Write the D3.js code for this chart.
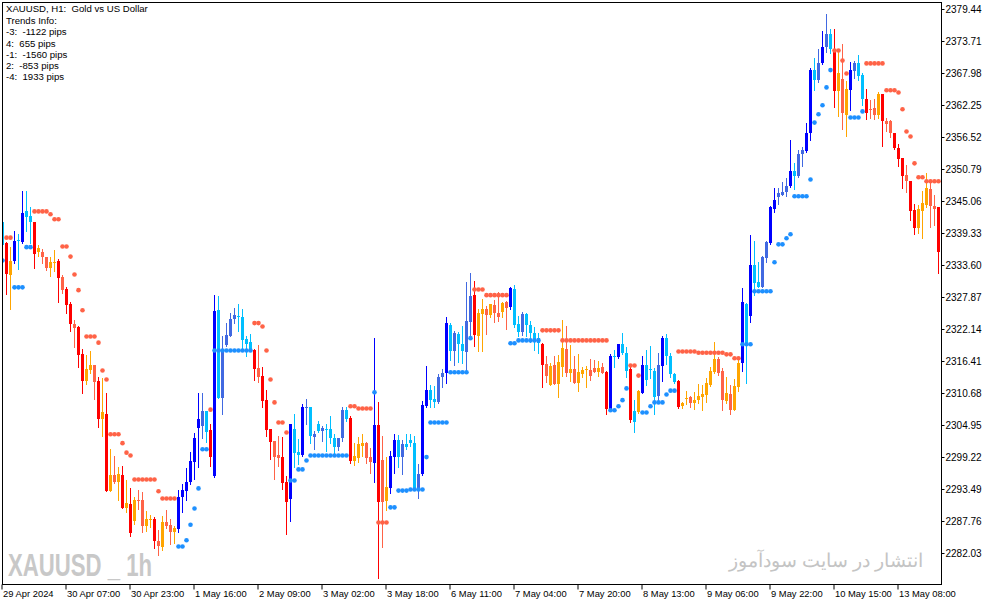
<!DOCTYPE html>
<html><head><meta charset="utf-8">
<script src="https://cdn.jsdelivr.net/npm/d3@7"></script>
<style>
html,body{margin:0;padding:0;background:#fff;}
svg{display:block;}
text{font-family:"Liberation Sans",Arial,sans-serif;}
</style></head><body>
<svg id="chart" width="994" height="605"></svg>
<script>
// ---------------- DATA ----------------
const chartTitle = "XAUUSD, H1:  Gold vs US Dollar";
const infoLines = ["Trends Info:", "-3:  -1122 pips", "4:  655 pips", "-1:  -1560 pips", "2:  -853 pips", "-4:  1933 pips"];
const watermarkLeft = "XAUUSD _ 1h";
const watermarkRight = "انتشار در سایت سودآموز";

const firstBarUTC = [2024, 3, 29, 14]; // 29 Apr 2024 14:00, H1 bars (no 00:00 bar, no weekend)
const tickTimes = ["2024-04-29 14:00","2024-04-30 07:00","2024-04-30 23:00","2024-05-01 16:00","2024-05-02 09:00",
  "2024-05-03 02:00","2024-05-03 18:00","2024-05-06 11:00","2024-05-07 04:00","2024-05-07 20:00",
  "2024-05-08 13:00","2024-05-09 06:00","2024-05-09 22:00","2024-05-10 15:00","2024-05-13 08:00"];
const tickLabels = ["29 Apr 2024","30 Apr 07:00","30 Apr 23:00","1 May 16:00","2 May 09:00",
  "3 May 02:00","3 May 18:00","6 May 11:00","7 May 04:00","7 May 20:00",
  "8 May 13:00","9 May 06:00","9 May 22:00","10 May 15:00","13 May 08:00"];
const priceTicks = [2379.44,2373.71,2367.98,2362.25,2356.52,2350.79,2345.06,2339.33,2333.60,2327.87,
  2322.14,2316.41,2310.68,2304.95,2299.22,2293.49,2287.76,2282.03];

const open = [
2341.3,2337.5,2331.8,2334.3,2338.1,2337.8,2343.3,2342.4,2341.3,2336.0,
2336.0,2335.0,2333.1,2334.0,2334.3,2331.4,2329.3,2326.6,2323.0,2322.5,
2317.7,2312.8,2314.8,2315.7,2312.8,2306.0,2306.9,2293.2,2296.0,2294.7,
2296.0,2290.1,2290.8,2287.7,2291.5,2291.5,2286.9,2288.0,2288.1,2284.2,
2283.1,2287.6,2287.0,2285.8,2286.4,2292.1,2293.2,2294.7,2298.4,2304.5,
2304.8,2307.4,2304.0,2295.8,2325.5,2309.8,2319.3,2320.9,2324.0,2324.4,
2324.3,2320.3,2319.8,2318.4,2315.2,2313.7,2309.4,2304.2,2302.1,2299.6,
2299.2,2294.8,2291.7,2304.2,2300.2,2299.6,2308.0,2308.2,2302.8,2305.1,
2303.9,2304.3,2304.2,2302.7,2301.0,2302.7,2307.6,2306.2,2298.5,2299.1,
2301.2,2301.8,2299.2,2298.2,2304.9,2298.7,2291.4,2293.7,2299.3,2302.2,
2299.3,2301.5,2302.2,2301.8,2293.7,2296.1,2308.3,2311.2,2309.6,2309.1,
2313.6,2314.2,2322.8,2318.2,2321.2,2319.4,2318.1,2323.4,2328.2,2320.9,
2324.8,2325.7,2324.6,2326.4,2325.0,2325.2,2327.0,2326.1,2329.3,2323.0,
2321.6,2324.9,2322.8,2321.5,2320.6,2319.4,2315.9,2312.1,2315.7,2312.3,
2315.4,2318.5,2314.3,2315.0,2312.5,2314.1,2314.8,2314.8,2315.2,2314.5,
2315.4,2314.5,2307.7,2317.3,2317.1,2319.4,2317.8,2314.9,2307.4,2307.3,
2310.7,2315.7,2315.0,2314.6,2310.1,2315.5,2320.6,2317.3,2314.0,2312.8,
2308.3,2309.6,2309.9,2308.8,2309.4,2310.0,2310.3,2312.1,2314.5,2316.8,
2314.6,2309.3,2310.5,2307.7,2311.8,2316.1,2326.7,2324.5,2333.6,2330.5,
2329.6,2334.9,2337.6,2343.6,2345.8,2346.2,2346.7,2347.7,2350.4,2349.5,
2353.5,2354.0,2357.2,2368.5,2366.7,2369.7,2372.6,2375.0,2372.2,2364.7,
2366.9,2360.5,2364.9,2368.4,2369.8,2367.6,2363.4,2361.5,2361.7,2360.5,
2364.2,2359.4,2359.3,2357.2,2354.5,2352.8,2349.7,2348.6,2343.4,2340.3,
2343.3,2344.3,2347.2,2344.2,2344.0];
const high = [
2341.5,2337.8,2336.9,2339.7,2339.1,2346.8,2346.8,2343.9,2341.3,2337.2,
2336.5,2335.0,2335.0,2336.3,2334.7,2331.8,2329.7,2326.9,2323.7,2322.7,
2318.5,2317.5,2318.2,2315.7,2313.6,2313.4,2310.7,2300.6,2299.4,2297.5,
2297.6,2295.1,2293.6,2292.1,2293.3,2292.9,2289.5,2288.8,2288.5,2286.1,
2288.7,2289.8,2288.1,2286.9,2293.3,2294.4,2297.3,2300.2,2303.6,2310.6,
2310.6,2307.4,2305.1,2328.3,2328.0,2320.8,2323.2,2325.0,2325.9,2326.6,
2325.7,2320.9,2321.2,2318.5,2319.3,2315.3,2311.2,2304.2,2302.1,2303.0,
2302.8,2295.9,2305.2,2307.0,2302.4,2308.7,2309.6,2308.2,2303.9,2305.7,
2304.8,2305.1,2306.6,2303.4,2302.7,2308.2,2308.2,2306.6,2301.8,2302.8,
2303.3,2301.9,2300.8,2320.6,2309.0,2303.0,2299.2,2300.3,2303.3,2303.1,
2302.2,2303.4,2303.4,2303.0,2298.0,2309.2,2315.5,2312.1,2311.9,2314.0,
2315.0,2324.3,2323.3,2321.8,2321.6,2322.7,2330.5,2332.1,2330.7,2325.7,
2327.6,2326.2,2326.7,2327.4,2328.8,2327.0,2327.1,2329.7,2330.0,2324.5,
2325.1,2325.0,2323.6,2322.5,2321.4,2319.6,2317.3,2316.1,2317.3,2317.5,
2323.7,2322.7,2319.3,2317.3,2317.6,2315.4,2315.5,2316.7,2316.6,2316.4,
2316.1,2314.6,2317.6,2318.4,2319.5,2321.5,2319.0,2315.3,2309.4,2311.3,
2317.3,2318.4,2319.1,2315.1,2317.8,2320.9,2321.2,2317.8,2314.2,2313.0,
2309.1,2311.0,2310.1,2310.9,2312.3,2312.1,2313.3,2315.4,2319.8,2317.2,
2315.1,2313.6,2312.1,2313.1,2317.1,2329.5,2326.8,2339.0,2337.9,2334.2,
2335.2,2337.9,2344.2,2347.4,2347.3,2348.5,2349.2,2356.0,2351.8,2354.2,
2354.8,2359.0,2368.9,2370.6,2372.2,2375.5,2378.5,2375.9,2375.9,2372.2,
2373.2,2366.6,2370.0,2370.1,2371.2,2367.9,2365.1,2363.1,2363.4,2364.6,
2364.3,2360.0,2359.6,2357.2,2355.2,2352.8,2351.5,2348.6,2344.6,2344.3,
2346.8,2350.0,2348.8,2346.1,2344.0];
const low = [
2337.0,2328.4,2325.7,2334.0,2332.9,2337.6,2339.7,2337.6,2333.1,2335.2,
2334.0,2332.7,2331.6,2332.6,2327.0,2328.6,2325.0,2321.8,2319.0,2315.4,
2310.7,2312.3,2314.3,2309.6,2304.6,2303.0,2293.2,2293.2,2294.5,2291.5,
2290.1,2289.4,2285.1,2287.3,2289.9,2285.8,2285.9,2286.7,2283.0,2281.7,
2282.5,2286.5,2283.6,2283.9,2285.8,2289.3,2291.6,2294.3,2295.3,2297.5,
2302.7,2301.9,2297.6,2295.7,2309.8,2307.0,2319.1,2320.8,2323.2,2321.8,
2318.8,2317.3,2318.2,2313.0,2312.7,2308.2,2303.0,2298.8,2295.3,2297.6,
2293.5,2285.4,2287.8,2297.5,2298.0,2299.4,2305.1,2301.8,2300.6,2303.7,
2302.1,2300.3,2301.8,2299.9,2300.5,2302.1,2305.7,2298.1,2297.8,2298.3,
2299.4,2298.1,2296.4,2294.8,2277.5,2283.1,2289.8,2292.8,2296.4,2297.5,
2296.1,2300.6,2301.2,2293.3,2291.9,2296.0,2308.2,2308.2,2308.2,2308.8,
2311.8,2312.5,2316.6,2315.7,2316.2,2316.1,2314.3,2321.1,2319.1,2318.2,
2318.2,2321.2,2324.3,2323.4,2323.6,2324.3,2322.1,2325.7,2322.5,2320.9,
2321.1,2320.9,2319.8,2318.4,2317.8,2311.8,2312.7,2312.1,2312.3,2310.0,
2313.7,2313.7,2312.9,2312.5,2311.1,2313.5,2311.8,2313.0,2314.5,2313.7,
2314.2,2307.0,2307.6,2315.3,2316.9,2317.6,2313.6,2305.5,2303.7,2307.1,
2310.6,2312.1,2313.3,2306.9,2309.3,2312.9,2315.9,2313.6,2312.4,2308.0,
2308.0,2308.7,2308.1,2307.9,2308.9,2307.7,2309.0,2311.9,2314.3,2313.9,
2307.6,2308.9,2306.9,2307.6,2311.1,2314.7,2312.4,2323.4,2328.2,2329.6,
2329.6,2334.1,2337.3,2343.1,2344.5,2346.1,2346.0,2347.6,2347.2,2349.4,
2351.4,2353.8,2356.0,2364.9,2366.4,2369.6,2371.8,2371.5,2361.9,2360.3,
2357.9,2356.7,2361.3,2367.0,2366.8,2362.2,2359.7,2359.9,2359.7,2359.9,
2354.9,2357.6,2356.5,2354.4,2351.4,2347.4,2346.7,2341.6,2339.1,2339.4,
2338.5,2343.9,2340.4,2340.7,2332.2];
const close = [
2337.2,2332.0,2334.3,2337.9,2337.9,2343.0,2342.2,2341.3,2335.6,2336.7,
2335.0,2333.1,2334.1,2334.1,2331.3,2329.1,2326.4,2323.0,2322.4,2317.5,
2312.8,2315.0,2315.7,2312.7,2306.0,2307.3,2293.2,2296.0,2294.7,2296.2,
2290.1,2291.0,2285.6,2291.5,2291.4,2286.9,2288.1,2288.1,2284.2,2283.3,
2287.5,2286.9,2285.8,2286.5,2292.1,2293.3,2294.7,2298.5,2302.6,2306.1,
2307.4,2303.7,2299.3,2325.4,2309.8,2318.4,2321.1,2323.9,2324.6,2324.3,
2320.2,2319.4,2318.4,2315.0,2313.5,2309.2,2304.0,2301.9,2299.3,2299.1,
2294.6,2291.2,2305.1,2300.0,2299.6,2308.2,2308.2,2303.0,2303.3,2303.9,
2304.5,2304.2,2302.7,2301.0,2302.7,2307.6,2306.0,2298.5,2299.4,2301.5,
2301.8,2299.1,2298.3,2304.9,2291.2,2291.2,2293.8,2299.4,2302.2,2299.3,
2301.5,2301.0,2301.8,2293.6,2296.2,2308.5,2311.2,2309.4,2309.1,2313.6,
2314.2,2323.3,2318.2,2321.5,2319.4,2318.2,2323.6,2328.0,2321.1,2325.0,
2325.7,2324.6,2326.6,2325.0,2324.3,2326.8,2325.9,2329.4,2322.8,2321.6,
2324.9,2322.8,2321.5,2319.8,2319.7,2315.7,2313.7,2315.5,2312.3,2316.3,
2318.7,2314.3,2314.9,2312.5,2314.5,2314.8,2315.0,2313.7,2314.5,2315.2,
2314.2,2307.8,2317.3,2317.1,2319.4,2317.8,2314.7,2305.8,2305.4,2311.0,
2315.7,2313.0,2314.9,2310.0,2315.7,2320.5,2317.3,2314.0,2312.7,2308.2,
2308.9,2309.7,2308.8,2309.5,2310.1,2310.5,2312.5,2314.6,2316.8,2314.2,
2309.4,2310.6,2307.7,2311.9,2316.1,2326.9,2319.6,2333.6,2330.4,2329.6,
2335.1,2337.8,2344.0,2345.2,2346.5,2346.7,2347.7,2350.4,2349.5,2353.5,
2354.2,2357.2,2368.6,2366.7,2369.7,2372.6,2375.0,2372.2,2364.8,2368.0,
2360.9,2365.1,2368.5,2369.8,2367.4,2363.3,2360.8,2361.4,2360.5,2364.2,
2359.3,2358.8,2357.2,2354.5,2352.6,2349.6,2348.6,2343.3,2340.3,2343.6,
2344.7,2347.3,2344.2,2343.6,2336.0];

// candle colour state: B=strong bull, R=bull, C=bear in uptrend, D=strong bear, T=bear, O=bull in downtrend
const candleState = ("CDOBCBCCDO"+"TTOODTDDTD"+"DOOTDODOTO"+"DODOTTOODT"+"OTTOBBBBBB"+
  "RCDBCRRRRC"+"CCCDTDDDTT"+"DDBCCBRCRC"+"RCCCRRCDOO"+"OTTBDTOBBC"+
  "RCCCRBBCCR"+"RBCRCCRRDO"+"OTOTTOTBCC"+"RCCCCDTOTO"+"OTOTOOOTTO"+
  "TDBCBCCDCO"+"BCCCRBCCCD"+"OOTOOOOOOT"+"TOTOOBCBCC"+"RRBBRRRBCR"+
  "RBBCRBRCDO"+"TOBRCCDTTO"+"DTTDDDTDDO"+"OOTTD").split("");

// trailing stop dots: U = support (below), D = resistance (above)
const trailStop = [
2334.4,2338.5,2338.5,2329.6,2329.6,2329.6,2336.8,2336.8,2343.2,2343.2,
2343.2,2343.2,2342.7,2341.8,2341.8,2336.9,2336.9,2335.1,2331.9,2329.1,
2325.5,2320.8,2320.8,2320.8,2319.7,2314.7,2313.1,2303.3,2303.3,2303.3,
2301.7,2300.0,2299.5,2295.2,2295.2,2295.2,2295.2,2295.2,2295.2,2293.1,
2291.8,2291.8,2291.8,2291.8,2283.2,2283.2,2284.3,2287.1,2290.0,2293.6,
2300.6,2300.6,2307.7,2318.3,2318.3,2318.3,2318.3,2318.3,2318.3,2318.3,
2318.3,2318.3,2318.3,2323.2,2323.2,2322.6,2318.3,2313.1,2309.0,2305.4,
2305.4,2303.6,2295.0,2295.0,2297.0,2297.0,2298.6,2299.5,2299.5,2299.5,
2299.5,2299.5,2299.5,2299.5,2299.5,2299.5,2299.5,2308.3,2308.3,2307.9,
2307.9,2307.9,2307.9,2310.8,2287.5,2287.5,2287.5,2290.2,2290.2,2293.2,
2293.2,2293.2,2293.4,2293.4,2293.4,2293.4,2299.2,2305.4,2305.4,2305.4,
2305.4,2305.4,2314.4,2314.4,2314.4,2314.4,2314.4,2320.5,2329.2,2329.2,
2329.2,2328.2,2328.2,2328.2,2328.2,2328.2,2328.2,2319.6,2319.6,2320.1,
2320.1,2320.1,2320.1,2320.1,2320.1,2321.9,2321.9,2321.9,2321.9,2321.9,
2320.1,2320.1,2320.1,2320.1,2320.1,2320.1,2320.1,2320.1,2320.1,2320.1,
2320.1,2320.1,2307.6,2307.6,2308.3,2309.4,2311.5,2315.6,2315.6,2313.8,
2307.2,2307.2,2308.3,2309.0,2309.0,2309.0,2310.4,2311.1,2311.1,2318.1,
2318.1,2318.1,2318.1,2318.1,2317.9,2317.9,2317.9,2317.9,2317.9,2317.9,
2317.9,2317.6,2317.6,2316.9,2316.9,2319.4,2319.4,2319.4,2328.9,2328.9,
2328.9,2328.9,2328.9,2334.1,2337.3,2337.3,2338.4,2339.1,2345.9,2345.9,
2345.9,2345.9,2348.9,2359.1,2360.6,2362.2,2365.4,2368.5,2372.0,2372.0,
2370.2,2367.9,2360.0,2360.0,2360.0,2361.1,2369.7,2369.7,2369.7,2369.7,
2369.7,2364.9,2364.9,2364.9,2364.5,2361.5,2357.5,2356.6,2351.8,2349.3,
2349.3,2348.6,2348.6,2348.6,2348.6];
const trailSide = ("UDDUUUUUDD"+"DDDDDDDDDD"+"DDDDDDDDDD"+"DDDDDDDDDD"+"DDDDUUUUUU"+
  "UUDUUUUUUU"+"UUUDDDDDDD"+"DDUUUUUUUU"+"UUUUUUUDDD"+"DDDUDDDUUU"+
  "UUUUUUUUUU"+"UUUUUUUUDD"+"DDDDDDDUUU"+"UUUUUDDDDD"+"DDDDDDDDDD"+
  "DDUUUUUDDD"+"UUUUUUUUUD"+"DDDDDDDDDD"+"DDDDDUUUUU"+"UUUUUUUUUU"+
  "UUUUUUUUDD"+"DDUUUUDDDD"+"DDDDDDDDDD"+"DDDDD").split("");

const stateColors = {B:"#0000ff", R:"#4169e1", C:"#00bfff", D:"#ff0000", T:"#ff6347", O:"#ffa500"};
const dotColors = {U:"#1e90ff", D:"#ff6347"};

// ---------------- BUILD ----------------
const fmtKey = d3.utcFormat("%Y-%m-%d %H:%M");
const barTimes = [];
let t = Date.UTC(...firstBarUTC);
while (barTimes.length < open.length) {
  const d = new Date(t);
  const dow = d.getUTCDay(), h = d.getUTCHours();
  if (h !== 0 && dow !== 0 && dow !== 6) barTimes.push(fmtKey(d));
  t += 3600000;
}
const bars = barTimes.map((k, i) => ({key: k, o: open[i], h: high[i], l: low[i], c: close[i],
  s: candleState[i], stop: trailStop[i], side: trailSide[i]}));

const svg = d3.select("#chart");
const x = d3.scaleBand().domain(barTimes).range([0, 940]).paddingInner(0).paddingOuter(0);
const y = d3.scaleLinear().domain([d3.min(priceTicks), d3.max(priceTicks)]).range([553, 9]);
const bw = x.bandwidth();
const cx = k => Math.round(x(k) + bw / 2);

svg.append("rect").attr("width", 994).attr("height", 605).attr("fill", "#fff");

const defs = svg.append("defs");
defs.append("clipPath").attr("id", "plotClip").append("rect")
  .attr("x", 3).attr("y", 3).attr("width", 938).attr("height", 581);

const plot = svg.append("g").attr("clip-path", "url(#plotClip)").attr("shape-rendering", "crispEdges");

// wicks
plot.append("g").selectAll("rect").data(bars).join("rect")
  .attr("x", d => cx(d.key))
  .attr("y", d => Math.round(y(d.h)))
  .attr("width", 1)
  .attr("height", d => Math.max(1, Math.round(y(d.l)) - Math.round(y(d.h)) + 1))
  .attr("fill", d => stateColors[d.s]);

// bodies
plot.append("g").selectAll("rect").data(bars).join("rect")
  .attr("x", d => cx(d.key) - 1)
  .attr("y", d => Math.round(y(Math.max(d.o, d.c))))
  .attr("width", 3)
  .attr("height", d => Math.max(1, Math.round(y(Math.min(d.o, d.c))) - Math.round(y(Math.max(d.o, d.c)))))
  .attr("fill", d => stateColors[d.s]);

// trailing dots
svg.append("g").attr("clip-path", "url(#plotClip)").selectAll("circle").data(bars).join("circle")
  .attr("cx", d => cx(d.key) + 0.5)
  .attr("cy", d => y(d.stop))
  .attr("r", 2.3)
  .attr("fill", d => dotColors[d.side]);

// watermarks
svg.append("text").attr("x", 8).attr("y", 576)
  .attr("textLength", 144).attr("lengthAdjust", "spacingAndGlyphs")
  .attr("font-size", 31).attr("font-weight", "bold").attr("fill", "#c8c8c8")
  .style("white-space", "pre")
  .text(watermarkLeft);
svg.append("text").attr("x", 826).attr("y", 567)
  .attr("text-anchor", "middle")
  .attr("font-family", "DejaVu Sans, Noto Sans, sans-serif")
  .attr("font-size", 19).attr("fill", "#c4c4c4")
  .attr("direction", "rtl")
  .text(watermarkRight);

// frame
svg.append("rect").attr("x", 2.5).attr("y", 2.5).attr("width", 939).attr("height", 582)
  .attr("fill", "none").attr("stroke", "#000").attr("stroke-width", 1);

// y axis
const yAxis = svg.append("g").attr("transform", "translate(941.5,0)")
  .call(d3.axisRight(y).tickValues(priceTicks).tickSize(3).tickPadding(1).tickFormat(d3.format(".2f")));
yAxis.select(".domain").remove();
yAxis.selectAll("text").attr("font-family", "Liberation Sans, Arial, sans-serif").attr("font-size", 10).attr("fill", "#000");

// x axis
const labelByKey = new Map(tickTimes.map((k, i) => [k, tickLabels[i]]));
const xAxis = svg.append("g").attr("transform", "translate(0,584.5)")
  .call(d3.axisBottom(x).tickValues(tickTimes).tickSize(5).tickPadding(1).tickFormat(k => labelByKey.get(k)));
xAxis.select(".domain").remove();
xAxis.selectAll("text").attr("text-anchor", "start").attr("x", 1)
  .attr("font-family", "Liberation Sans, Arial, sans-serif").attr("font-size", 9.4).attr("fill", "#000");

// header text
const header = svg.append("g").attr("font-size", 9.6).attr("fill", "#000");
header.append("text").attr("x", 6).attr("y", 11.7).style("white-space", "pre").text(chartTitle);
const baseY = [24, 35.3, 46.5, 57.5, 68.5, 79.5];
infoLines.forEach((s, i) => {
  header.append("text").attr("x", 6).attr("y", baseY[i]).style("white-space", "pre").text(s);
});
</script>
</body></html>
